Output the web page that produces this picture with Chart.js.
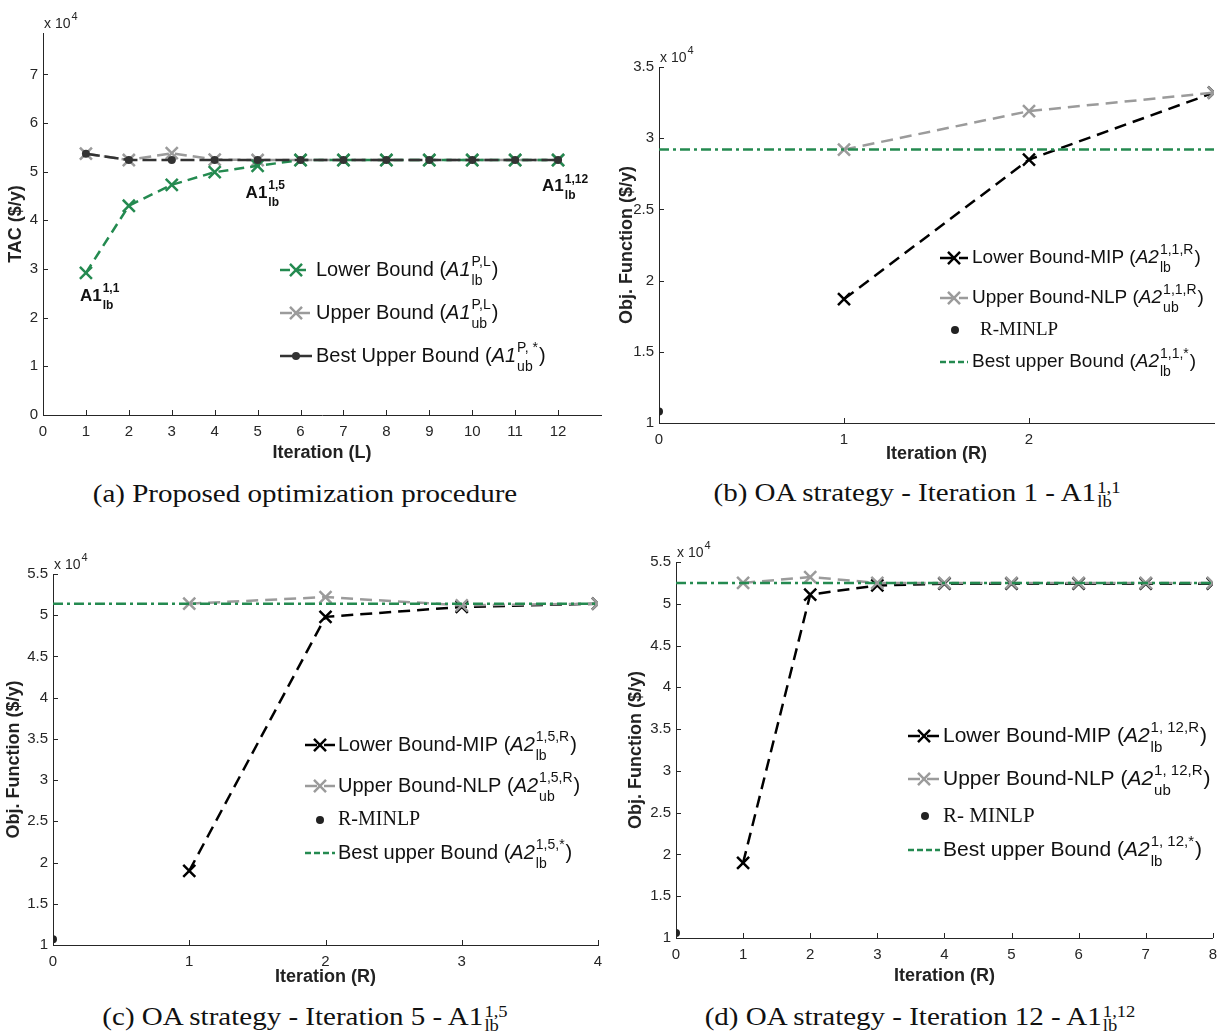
<!DOCTYPE html>
<html>
<head>
<meta charset="utf-8">
<script src="https://cdn.jsdelivr.net/npm/chart.js@4.4.1/dist/chart.umd.min.js"></script>
<style>
    body { margin: 0; background: #fff; width: 1225px; height: 1035px; position: relative; overflow: hidden; }
    canvas { position: absolute; }
    .cap { position: absolute; font-family: 'Liberation Serif', 'Times New Roman', serif; font-size: 25px; color: #111;
           white-space: nowrap; transform: translate(-50%, -50%) scaleX(1.16); }
    .ss { display: inline-block; vertical-align: middle; font-size: 16px; line-height: 14px; margin-left: 1px; }
    .ss span { display: block; }
</style>
</head>
<body>
<canvas id="chartA" width="612" height="470" style="left:0;top:0"></canvas>
<canvas id="chartB" width="613" height="470" style="left:612px;top:0"></canvas>
<canvas id="chartC" width="612" height="470" style="left:0;top:530px"></canvas>
<canvas id="chartD" width="613" height="470" style="left:612px;top:530px"></canvas>

<div class="cap" style="left:305px;top:494px">(a) Proposed optimization procedure</div>
<div class="cap" style="left:917px;top:494px">(b) OA strategy - Iteration 1 - A1<span class="ss"><span>1,1</span><span>lb</span></span></div>
<div class="cap" style="left:305px;top:1018px">(c) OA strategy - Iteration 5 - A1<span class="ss"><span>1,5</span><span>lb</span></span></div>
<div class="cap" style="left:920px;top:1018px">(d) OA strategy - Iteration 12 - A1<span class="ss"><span>1,12</span><span>lb</span></span></div>

<script>
// =====================================================
// DATA (values in units of 10^4 $/y)
// =====================================================
// (a) proposed procedure, outer iterations L
const iterA = [1, 2, 3, 4, 5, 6, 7, 8, 9, 10, 11, 12];
const lowerA = [2.92, 4.30, 4.73, 4.99, 5.12, 5.24, 5.24, 5.24, 5.24, 5.24, 5.24, 5.24];
const upperA = [5.37, 5.24, 5.38, 5.25, 5.24, 5.24, 5.24, 5.24, 5.24, 5.24, 5.24, 5.24];
const bestA = [5.37, 5.24, 5.24, 5.24, 5.24, 5.24, 5.24, 5.24, 5.24, 5.24, 5.24, 5.24];
const xTicksA = [0, 1, 2, 3, 4, 5, 6, 7, 8, 9, 10, 11, 12];
const yTicksA = [0, 1, 2, 3, 4, 5, 6, 7];

// (b) OA strategy, iteration 1
const iterB = [1, 2, 3];
const lowerB = [1.87, 2.85, 3.32];
const upperB = [2.92, 3.19, 3.32];
const rminlpB = [1.08];
const bestSpanB = [0, 3];
const bestB = [2.92, 2.92];
const xTicksB = [0, 1, 2];
const yTicksB = [1, 1.5, 2, 2.5, 3, 3.5];

// (c) OA strategy, iteration 5
const iterC = [1, 2, 3, 4];
const lowerC = [1.90, 4.98, 5.10, 5.14];
const upperC = [5.14, 5.22, 5.12, 5.14];
const rminlpC = [1.07];
const bestSpanC = [0, 4];
const bestC = [5.14, 5.14];
const xTicksC = [0, 1, 2, 3, 4];
const yTicksC = [1, 1.5, 2, 2.5, 3, 3.5, 4, 4.5, 5, 5.5];

// (d) OA strategy, iteration 12
const iterD = [1, 2, 3, 4, 5, 6, 7, 8];
const lowerD = [1.90, 5.11, 5.22, 5.24, 5.24, 5.24, 5.24, 5.24];
const upperD = [5.25, 5.32, 5.25, 5.25, 5.25, 5.25, 5.25, 5.25];
const rminlpD = [1.06];
const bestSpanD = [0, 8];
const bestD = [5.25, 5.25];
const xTicksD = [0, 1, 2, 3, 4, 5, 6, 7, 8];
const yTicksD = yTicksC;

const rIter = [0];

// =====================================================
// STYLE
// =====================================================
const SANS = "'Liberation Sans', Arial, sans-serif";
const SERIF = "'Liberation Serif', 'Times New Roman', serif";
const AX = '#262626';
const GREEN = '#248a50';
const GRAY = '#9b9b9b';
const DARK = '#333333';

const pts = (xs, ys) => xs.map((x, i) => ({ x: x, y: ys[i] }));

function crossSet(label, xs, ys, color, dash, order) {
    return {
        label: label, data: pts(xs, ys), borderColor: color, backgroundColor: color,
        borderDash: dash, borderWidth: 2.5, pointStyle: 'crossRot', pointRadius: 8.5,
        pointBorderWidth: 2.5, pointBorderColor: color, order: order
    };
}
function dotSet(label, xs, ys, color, order) {
    return {
        label: label, data: pts(xs, ys), showLine: false, pointStyle: 'circle', pointRadius: 4,
        pointBackgroundColor: color, pointBorderColor: color, pointBorderWidth: 0, order: order
    };
}
function bestSet(label, xs, ys, order) {
    return {
        label: label, data: pts(xs, ys), borderColor: GREEN, borderDash: [10, 4, 3, 4],
        borderWidth: 2.5, pointRadius: 0, order: order
    };
}

// rich text with stacked super/subscripts; y is the text middle
function richText(ctx, x, y, segs, size, family) {
    ctx.textBaseline = 'middle';
    ctx.textAlign = 'left';
    segs.forEach(s => {
        const fam = s.serif ? SERIF : family;
        const wt = s.b ? 'bold ' : '';
        ctx.font = (s.i ? 'italic ' : '') + wt + size + 'px ' + fam;
        ctx.fillText(s.t, x, y);
        x += ctx.measureText(s.t).width;
        if (s.sup || s.sub) {
            const ss = Math.round(size * (s.scale || 0.72));
            ctx.font = wt + ss + 'px ' + fam;
            let w = 0;
            if (s.sup) { ctx.fillText(s.sup, x + 1, y - size * (s.up || 0.4)); w = ctx.measureText(s.sup).width; }
            if (s.sub) { ctx.fillText(s.sub, x + 1, y + size * 0.55); w = Math.max(w, ctx.measureText(s.sub).width); }
            x += w + 2;
        }
    });
}

function drawMarker(ctx, ds, x, y) {
    if (ds.pointStyle === 'crossRot') {
        const s = ds.pointRadius * 0.707;
        ctx.strokeStyle = ds.pointBorderColor;
        ctx.lineWidth = ds.pointBorderWidth;
        ctx.setLineDash([]);
        ctx.beginPath();
        ctx.moveTo(x - s, y - s); ctx.lineTo(x + s, y + s);
        ctx.moveTo(x - s, y + s); ctx.lineTo(x + s, y - s);
        ctx.stroke();
    } else if (ds.pointStyle === 'circle' && ds.pointRadius > 0) {
        ctx.fillStyle = ds.pointBackgroundColor;
        ctx.beginPath();
        ctx.arc(x, y, ds.pointRadius, 0, Math.PI * 2);
        ctx.fill();
    }
}

// inward ticks, x10^4 exponent, legend and point notes
const deco = {
    id: 'deco',
    afterDraw(chart, args, o) {
        const ctx = chart.ctx, a = chart.chartArea;
        const xs = chart.scales.x, ys = chart.scales.y;
        ctx.save();
        ctx.strokeStyle = AX;
        ctx.lineWidth = 1;
        ctx.beginPath();
        xs.ticks.forEach(t => {
            const p = Math.round(xs.getPixelForValue(t.value)) + 0.5;
            ctx.moveTo(p, a.bottom); ctx.lineTo(p, a.bottom - 5);
        });
        ys.ticks.forEach(t => {
            const p = Math.round(ys.getPixelForValue(t.value)) + 0.5;
            ctx.moveTo(a.left, p); ctx.lineTo(a.left + 5, p);
        });
        ctx.stroke();

        ctx.fillStyle = AX;
        richText(ctx, a.left + 1, a.top - 9, [{ t: 'x 10', sup: '4', scale: 0.8, up: 0.5 }], 14, SANS);

        const lg = o.legend;
        lg.rows.forEach(r => {
            const ds = chart.data.datasets[r.ds];
            const mx = r.mx != null ? r.mx : (lg.x0 + lg.x1) / 2;
            if (ds.showLine !== false) {
                ctx.strokeStyle = ds.borderColor;
                ctx.lineWidth = ds.borderWidth;
                ctx.setLineDash(r.dash || ds.borderDash || []);
                ctx.beginPath();
                ctx.moveTo(lg.x0, r.y); ctx.lineTo(lg.x1, r.y);
                ctx.stroke();
            }
            drawMarker(ctx, ds, mx, r.y);
            ctx.fillStyle = '#111';
            richText(ctx, r.tx != null ? r.tx : lg.tx, r.y, r.segs, r.size || lg.size, SANS);
        });

        (o.notes || []).forEach(n => {
            const p = chart.getDatasetMeta(n.ds).data[n.i];
            ctx.fillStyle = '#111';
            richText(ctx, p.x + n.dx, p.y + n.dy, n.segs, 17, SANS);
        });
        ctx.restore();
    }
};

function makeChart(id, cfg) {
    const cv = document.getElementById(id);
    const W = cv.width, H = cv.height, A = cfg.area;
    const tickFont = { family: SANS, size: 15 };
    const titleFont = { family: SANS, size: 18, weight: 'bold' };
    const fmt = v => String(Math.round(v * 10) / 10);
    return new Chart(cv, {
        type: 'line',
        data: { datasets: cfg.datasets },
        options: {
            responsive: false,
            animation: false,
            devicePixelRatio: 1,
            layout: { padding: { left: 0, top: A.top, right: W - A.right, bottom: 0 } },
            elements: { line: { tension: 0 } },
            plugins: { legend: { display: false }, tooltip: { enabled: false }, deco: cfg.deco },
            scales: {
                x: {
                    type: 'linear', min: cfg.xMin, max: cfg.xMax,
                    afterFit: s => { s.height = H - A.bottom; },
                    afterBuildTicks: s => { s.ticks = cfg.xTicks.map(v => ({ value: v })); },
                    grid: { display: false, drawTicks: false },
                    border: { color: AX, width: 1 },
                    ticks: { color: AX, font: tickFont, padding: 8, maxRotation: 0, autoSkip: false, callback: fmt },
                    title: { display: true, text: cfg.xTitle, color: '#222', font: titleFont,
                             padding: { top: 0, bottom: cfg.xTitlePad } }
                },
                y: {
                    type: 'linear', min: cfg.yMin, max: cfg.yMax,
                    afterFit: s => { s.width = A.left; },
                    afterBuildTicks: s => { s.ticks = cfg.yTicks.map(v => ({ value: v })); },
                    grid: { display: false, drawTicks: false },
                    border: { color: AX, width: 1 },
                    ticks: { color: AX, font: tickFont, padding: 5, autoSkip: false, callback: fmt },
                    title: { display: true, text: cfg.yTitle, color: '#222', font: titleFont,
                             padding: { top: cfg.yTitlePad, bottom: 0 } }
                }
            }
        },
        plugins: [deco]
    });
}

const lbSegs = (name, sup, sub) => [{ t: name + ' (' }, { t: 'A2', i: 1, sup: sup, sub: sub }, { t: ')' }];

// ---------- (a) ----------
makeChart('chartA', {
    area: { left: 43, right: 605, top: 33, bottom: 415 },
    xMin: 0, xMax: 13, yMin: 0, yMax: 7.85,
    xTicks: xTicksA, yTicks: yTicksA,
    xTitle: 'Iteration (L)', yTitle: 'TAC ($/y)', xTitlePad: 6.2, yTitlePad: 5.2,
    datasets: [
        crossSet('Lower Bound', iterA, lowerA, GREEN, [10, 6], 1),
        crossSet('Upper Bound', iterA, upperA, GRAY, [12, 6], 2),
        Object.assign(dotSet('Best Upper Bound', iterA, bestA, DARK, 0),
            { showLine: true, borderColor: DARK, borderWidth: 2.5, borderDash: [14, 5] })
    ],
    deco: {
        legend: {
            x0: 280, x1: 312, tx: 316, size: 20,
            rows: [
                { ds: 0, y: 270, segs: [{ t: 'Lower Bound (' }, { t: 'A1', i: 1, sup: 'P,L', sub: 'lb' }, { t: ')' }] },
                { ds: 1, y: 313, segs: [{ t: 'Upper Bound (' }, { t: 'A1', i: 1, sup: 'P,L', sub: 'ub' }, { t: ')' }] },
                { ds: 2, y: 356, segs: [{ t: 'Best Upper Bound (' }, { t: 'A1', i: 1, sup: 'P, *', sub: 'ub' }, { t: ')' }] }
            ]
        },
        notes: [
            { ds: 0, i: 0, dx: -6, dy: 23, segs: [{ t: 'A1', b: 1, sup: '1,1', sub: 'lb' }] },
            { ds: 0, i: 4, dx: -12, dy: 27, segs: [{ t: 'A1', b: 1, sup: '1,5', sub: 'lb' }] },
            { ds: 0, i: 11, dx: -16, dy: 26, segs: [{ t: 'A1', b: 1, sup: '1,12', sub: 'lb' }] }
        ]
    }
});

// ---------- (b) ----------
makeChart('chartB', {
    area: { left: 47, right: 602, top: 67, bottom: 423 },
    xMin: 0, xMax: 3, yMin: 1, yMax: 3.5,
    xTicks: xTicksB, yTicks: yTicksB,
    xTitle: 'Iteration (R)', yTitle: 'Obj. Function ($/y)', xTitlePad: 5.2, yTitlePad: 4.2,
    datasets: [
        crossSet('Lower Bound-MIP', iterB, lowerB, '#000', [12, 7], 2),
        crossSet('Upper Bound-NLP', iterB, upperB, GRAY, [12, 7], 1),
        dotSet('R-MINLP', rIter, rminlpB, '#222', 3),
        bestSet('Best upper Bound', bestSpanB, bestB, 0)
    ],
    deco: {
        legend: {
            x0: 328, x1: 356, tx: 360, size: 19,
            rows: [
                { ds: 0, y: 258, segs: lbSegs('Lower Bound-MIP', '1,1,R', 'lb') },
                { ds: 1, y: 298, segs: lbSegs('Upper Bound-NLP', '1,1,R', 'ub') },
                { ds: 2, y: 330, mx: 343, tx: 368, segs: [{ t: 'R-MINLP', serif: 1 }] },
                { ds: 3, y: 362, dash: [6, 3, 6, 3], segs: lbSegs('Best upper Bound', '1,1,*', 'lb') }
            ]
        }
    }
});

// ---------- (c) ----------
makeChart('chartC', {
    area: { left: 53, right: 598, top: 44, bottom: 415 },
    xMin: 0, xMax: 4, yMin: 1, yMax: 5.5,
    xTicks: xTicksC, yTicks: yTicksC,
    xTitle: 'Iteration (R)', yTitle: 'Obj. Function ($/y)', xTitlePad: 12.2, yTitlePad: 3.2,
    datasets: [
        crossSet('Lower Bound-MIP', iterC, lowerC, '#000', [12, 7], 2),
        crossSet('Upper Bound-NLP', iterC, upperC, GRAY, [12, 7], 1),
        dotSet('R-MINLP', rIter, rminlpC, '#222', 3),
        bestSet('Best upper Bound', bestSpanC, bestC, 0)
    ],
    deco: {
        legend: {
            x0: 305, x1: 335, tx: 338, size: 20,
            rows: [
                { ds: 0, y: 215, segs: lbSegs('Lower Bound-MIP', '1,5,R', 'lb') },
                { ds: 1, y: 256, segs: lbSegs('Upper Bound-NLP', '1,5,R', 'ub') },
                { ds: 2, y: 290, mx: 320, segs: [{ t: 'R-MINLP', serif: 1 }] },
                { ds: 3, y: 323, dash: [6, 3, 6, 3], segs: lbSegs('Best upper Bound', '1,5,*', 'lb') }
            ]
        }
    }
});

// ---------- (d) ----------
makeChart('chartD', {
    area: { left: 64, right: 601, top: 32, bottom: 408 },
    xMin: 0, xMax: 8, yMin: 1, yMax: 5.5,
    xTicks: xTicksD, yTicks: yTicksD,
    xTitle: 'Iteration (R)', yTitle: 'Obj. Function ($/y)', xTitlePad: 13.2, yTitlePad: 13.2,
    datasets: [
        crossSet('Lower Bound-MIP', iterD, lowerD, '#000', [12, 7], 2),
        crossSet('Upper Bound-NLP', iterD, upperD, GRAY, [12, 7], 1),
        dotSet('R-MINLP', rIter, rminlpD, '#222', 3),
        bestSet('Best upper Bound', bestSpanD, bestD, 0)
    ],
    deco: {
        legend: {
            x0: 296, x1: 328, tx: 331, size: 21,
            rows: [
                { ds: 0, y: 206, segs: lbSegs('Lower Bound-MIP', '1, 12,R', 'lb') },
                { ds: 1, y: 249, segs: lbSegs('Upper Bound-NLP', '1, 12,R', 'ub') },
                { ds: 2, y: 286, mx: 313, segs: [{ t: 'R- MINLP', serif: 1 }] },
                { ds: 3, y: 320, dash: [6, 3, 6, 3], segs: lbSegs('Best upper Bound', '1, 12,*', 'lb') }
            ]
        }
    }
});
</script>
</body>
</html>
